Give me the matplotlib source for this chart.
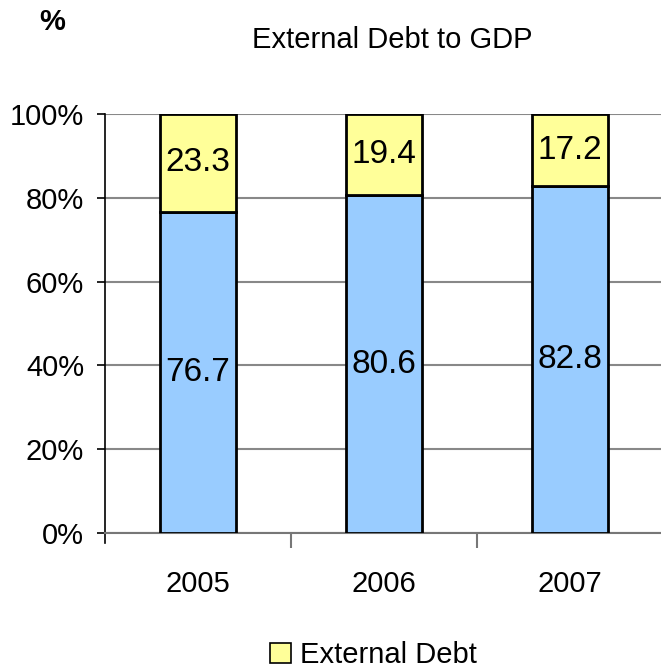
import numpy as np
import matplotlib.pyplot as plt
from matplotlib.patches import Patch

plt.rcParams['font.family'] = ['Liberation Sans', 'DejaVu Sans']

# ------------------------------------------------------------
# Data
# ------------------------------------------------------------
years = ['2005', '2006', '2007']
domestic = [76.7, 80.6, 82.8]
external = [23.3, 19.4, 17.2]

blue = '#99CCFF'
yellow = '#FFFF99'

# ------------------------------------------------------------
# Plot
# ------------------------------------------------------------
fig = plt.figure(figsize=(6.61, 6.70), dpi=100)
ax = fig.add_axes([0.1589, 0.2045, 0.8441, 0.6254])

x = np.arange(len(years))
ax.bar(x, domestic, width=0.41, color=blue, edgecolor='black', linewidth=2, zorder=3)
ax.bar(x, external, width=0.41, bottom=domestic, color=yellow, edgecolor='black',
       linewidth=2, zorder=3)

for i in range(len(years)):
    ax.text(x[i], domestic[i] / 2, f"{domestic[i]:.1f}", ha='center', va='center',
            fontsize=24, zorder=4)
    ax.text(x[i], domestic[i] + external[i] / 2, f"{external[i]:.1f}", ha='center',
            va='center', fontsize=24, zorder=4)

ax.set_xlim(-0.5, 2.5)
ax.set_ylim(0, 100)
ax.set_yticks(np.arange(0, 101, 20))
ax.set_yticklabels([f"{v}%" for v in range(0, 101, 20)], fontsize=21)
ax.yaxis.grid(True, color='#888888', linewidth=1.5, zorder=0)
ax.set_axisbelow(True)

# category labels centred, tick marks on the boundaries
ax.set_xticks(x)
ax.set_xticklabels(years, fontsize=21)
ax.tick_params(axis='x', length=0, pad=27)
ax.set_xticks([0.5, 1.5], minor=True)
ax.tick_params(axis='x', which='minor', length=11, width=1.5, color='#777777')
ax.tick_params(axis='y', length=6, width=1.2, pad=9)

for s in ['top', 'right']:
    ax.spines[s].set_visible(False)
ax.spines['bottom'].set_color('#777777')
ax.spines['bottom'].set_linewidth(1.5)
ax.spines['left'].set_linewidth(1.2)
ax.spines['left'].set_bounds(-2.5, 100)

fig.text(0.593, 0.94, "External Debt to GDP", ha='center', va='center', fontsize=21)
fig.text(0.079, 0.967, "%", ha='center', va='center', fontsize=21, fontweight='bold')

fig.legend(handles=[Patch(facecolor=yellow, edgecolor='black', linewidth=1.2)],
           labels=['External Debt'], loc='center', bbox_to_anchor=(0.565, 0.022),
           frameon=False, fontsize=21, handlelength=0.7, handleheight=0.7,
           handletextpad=0.3)

fig.savefig('out.png', dpi=100)
